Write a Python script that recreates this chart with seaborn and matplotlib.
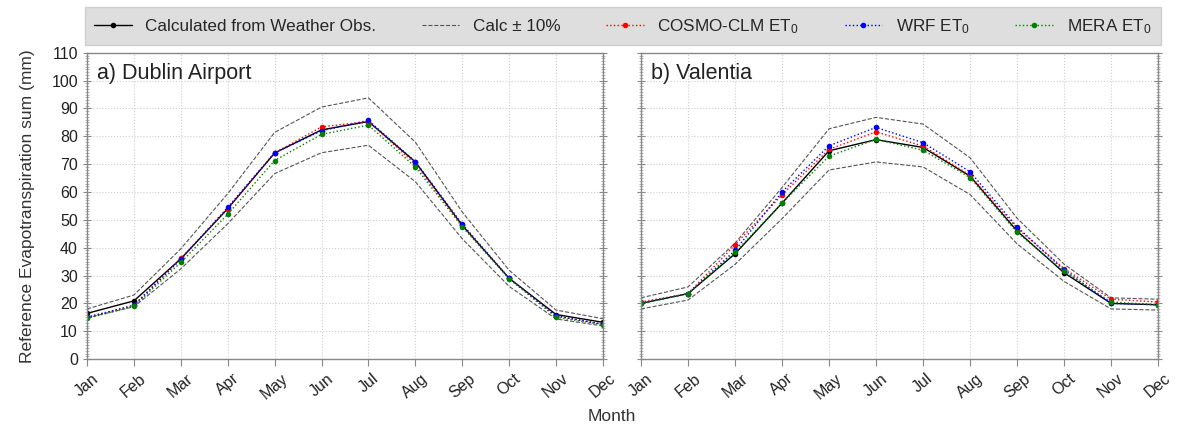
import numpy as np, pandas as pd, matplotlib
matplotlib.use("Agg")
import matplotlib.pyplot as plt
import seaborn as sns
from matplotlib.ticker import MultipleLocator

MONTHS = ["Jan","Feb","Mar","Apr","May","Jun","Jul","Aug","Sep","Oct","Nov","Dec"]

# a) Dublin Airport (values read from the figure)
DUB_OBS   = [16.4, 20.9, 36.0, 54.0, 74.0, 82.3, 85.3, 70.8, 48.0, 29.0, 16.0, 13.2]
DUB_UP    = [18.0, 23.0, 39.6, 59.4, 81.4, 90.5, 93.8, 77.9, 52.8, 31.9, 17.6, 14.5]
DUB_LO    = [14.8, 18.8, 32.4, 48.6, 66.6, 74.1, 76.8, 63.7, 43.2, 26.1, 14.4, 11.9]
DUB_COSMO = [15.0, 19.3, 36.2, 54.0, 74.0, 83.4, 85.3, 70.0, 48.0, 29.0, 15.5, 12.5]
DUB_WRF   = [15.0, 19.3, 35.8, 54.5, 74.1, 82.0, 85.7, 70.9, 48.5, 29.0, 15.5, 12.5]
DUB_MERA  = [14.6, 19.0, 34.7, 52.0, 71.3, 80.7, 84.0, 69.0, 47.5, 28.8, 15.0, 12.4]

# b) Valentia
VAL_OBS   = [20.0, 23.5, 37.8, 56.0, 74.8, 78.8, 76.0, 65.7, 46.0, 31.0, 20.0, 19.5]
VAL_UP    = [22.0, 25.9, 41.6, 61.6, 82.7, 86.8, 84.4, 72.3, 50.6, 34.1, 22.0, 21.5]
VAL_LO    = [18.0, 21.2, 34.0, 50.4, 67.9, 70.8, 69.0, 59.1, 41.4, 27.9, 18.0, 17.6]
VAL_COSMO = [20.5, 23.5, 41.0, 59.0, 75.3, 81.6, 76.5, 66.0, 47.0, 32.5, 21.5, 20.5]
VAL_WRF   = [20.0, 23.5, 39.0, 60.0, 76.6, 83.2, 77.7, 67.3, 47.5, 32.0, 20.0, 19.5]
VAL_MERA  = [20.0, 23.5, 38.3, 56.0, 72.9, 78.9, 75.0, 65.2, 45.5, 31.5, 20.5, 19.5]

PANELS = [("a) Dublin Airport", DUB_OBS, DUB_UP, DUB_LO, DUB_COSMO, DUB_WRF, DUB_MERA),
          ("b) Valentia", VAL_OBS, VAL_UP, VAL_LO, VAL_COSMO, VAL_WRF, VAL_MERA)]

sns.set_style("white")
plt.rcParams["font.family"] = ["Liberation Sans", "DejaVu Sans"]
plt.rcParams["mathtext.fontset"] = "custom"
plt.rcParams["mathtext.rm"] = "Liberation Sans"
plt.rcParams["mathtext.it"] = "Liberation Sans"

fig = plt.figure(figsize=(11.77, 4.29), dpi=100)
ax1 = fig.add_axes([0.0739, 0.163, 0.4384, 0.714])
ax2 = fig.add_axes([0.5446, 0.163, 0.4393, 0.714], sharey=ax1)
x = np.arange(12)
mk = dict(marker="o", markersize=4, markeredgewidth=0)

handles = None
for ax, (title, obs, up, lo, cosmo, wrf, mera) in zip([ax1, ax2], PANELS):
    ax.grid(True, color="#cfcfcf", linestyle=":", linewidth=0.8)
    sns.lineplot(x=x, y=up, ax=ax, color="#555555", linestyle="--", linewidth=0.8, label="Calc ± 10%")
    sns.lineplot(x=x, y=lo, ax=ax, color="#555555", linestyle="--", linewidth=0.8)
    sns.lineplot(x=x, y=obs, ax=ax, color="black", linewidth=1.0, label="Calculated from Weather Obs.", **mk)
    sns.lineplot(x=x, y=cosmo, ax=ax, color="red", linestyle=":", linewidth=1.0, label="COSMO-CLM ET$_0$", **mk)
    sns.lineplot(x=x, y=wrf, ax=ax, color="blue", linestyle=":", linewidth=1.0, label="WRF ET$_0$", **mk)
    sns.lineplot(x=x, y=mera, ax=ax, color="green", linestyle=":", linewidth=1.0, label="MERA ET$_0$", **mk)
    hs, ls = ax.get_legend_handles_labels()
    handles = dict(zip(ls, hs))
    ax.get_legend().remove()
    ax.set_xlim(0, 11)
    ax.set_ylim(0, 110)
    ax.set_xticks(x)
    ax.set_xticklabels(MONTHS, rotation=40, ha="center", fontsize=11.5, color="#222222")
    ax.yaxis.set_major_locator(MultipleLocator(10))
    ax.yaxis.set_minor_locator(MultipleLocator(1))
    ax.tick_params(axis="y", which="both", left=True, right=True, direction="inout")
    ax.tick_params(axis="y", which="major", length=6, labelsize=11.5, colors="#888888", labelcolor="#222222")
    ax.tick_params(axis="y", which="minor", length=3, colors="#aaaaaa")
    ax.tick_params(axis="x", which="major", bottom=True, length=5, colors="#888888", labelcolor="#222222")
    for s in ax.spines.values():
        s.set_color("#888888"); s.set_linewidth(1.0)
    ax.text(0.02, 0.965, title, transform=ax.transAxes, va="top", ha="left", fontsize=15.5, color="#222222")
    ax.set_xlabel(""); ax.set_ylabel("")

plt.setp(ax2.get_yticklabels(), visible=False)
ax1.set_ylabel("Reference Evapotranspiration sum (mm)", fontsize=12.5, color="#333333", labelpad=12)
fig.text(0.52, 0.012, "Month", ha="center", va="bottom", fontsize=12.5, color="#333333")

order = ["Calculated from Weather Obs.", "Calc ± 10%", "COSMO-CLM ET$_0$", "WRF ET$_0$", "MERA ET$_0$"]
leg = fig.legend([handles[k] for k in order], order, loc="center left", ncol=5, mode="expand",
                 bbox_to_anchor=(0.072, 0.897, 0.914, 0.084), fontsize=12.3, frameon=True,
                 handlelength=2.2, borderaxespad=0, fancybox=False, borderpad=0.55)
leg.get_frame().set_facecolor("#d6d6d6")
leg.get_frame().set_edgecolor("#c8c8c8")

fig.savefig("out.png", dpi=100)
